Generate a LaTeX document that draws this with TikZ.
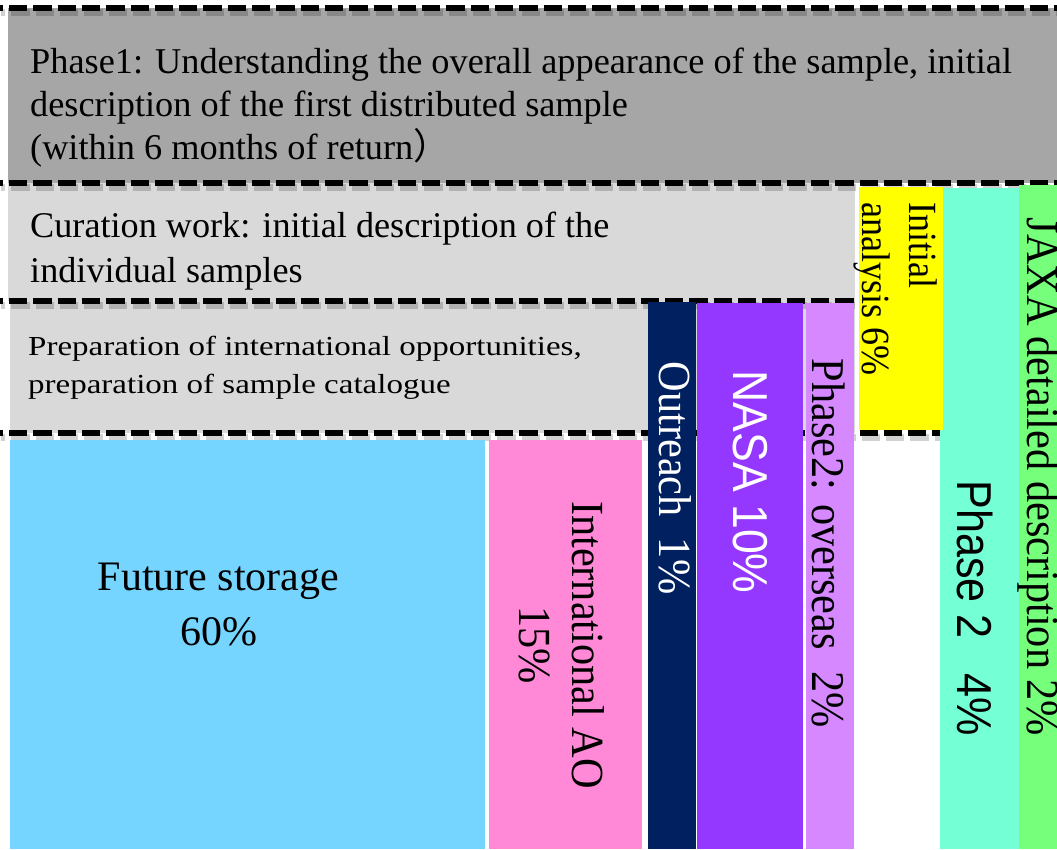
\documentclass[tikz,border=0pt]{standalone}
\usepackage{fontspec}
\setmainfont{Liberation Serif}
\newfontfamily\sansf{Liberation Sans}
\newfontfamily\cjkf{Noto Sans CJK JP}
\usepackage{graphicx}
\newcommand\fsz[2]{\fontsize{#1pt}{#2pt}\selectfont}
\definecolor{gPhaseOne}{HTML}{A6A6A6}
\definecolor{gLight}{HTML}{D9D9D9}
\definecolor{cBlue}{HTML}{75D5FF}
\definecolor{cPink}{HTML}{FF89D6}
\definecolor{cNavy}{HTML}{002060}
\definecolor{cPurple}{HTML}{9538FF}
\definecolor{cLilac}{HTML}{D689FF}
\definecolor{cYellow}{HTML}{FFFF00}
\definecolor{cTeal}{HTML}{75FFD5}
\definecolor{cGreen}{HTML}{75FF7A}
\begin{document}
\begin{tikzpicture}[x=1pt,y=-1pt,
  dashln/.style={line width=5.2pt, draw=black, dash pattern=on 18.3pt off 6pt, dash phase=15.3pt},
  dashshadow/.style={line width=7pt, draw=black, opacity=0.18, dash pattern=on 18.3pt off 6pt, dash phase=14pt},
  htext/.style={inner sep=0pt, anchor=north west, align=left},
  vtext/.style={inner sep=0pt, rotate=-90, align=center},
]
\useasboundingbox (0,0) rectangle (1057,849);
\fill[white] (0,0) rectangle (1057,849);
% background bands
\fill[gPhaseOne] (8,8) rectangle (1057,183);
\fill[gLight] (8,183) rectangle (855,301);
\fill[gLight] (10,301) rectangle (855,433);
% dashed separators with shadow
\draw[dashshadow] (1,12) -- (1057,12);
\draw[dashshadow] (1,187) -- (1057,187);
\draw[dashshadow] (1,305) -- (855,305);
\draw[dashshadow] (1,437) -- (940,437);
\draw[dashln] (0,8) -- (1057,8);
\draw[dashln] (0,183) -- (1057,183);
\draw[dashln] (0,301) -- (855,301);
\draw[dashln] (0,433) -- (940,433);
% bars
\fill[cBlue] (10,440) rectangle (485,849);
\fill[cPink] (489,440) rectangle (642,849);
\fill[cNavy] (648,302) rectangle (696,849);
\fill[cPurple] (697,303) rectangle (803,849);
\fill[cLilac] (806,303) rectangle (854,849);
\fill[cTeal] (940,188) rectangle (1019,849);
\fill[cYellow] (859,187) rectangle (943,430);
\fill[cGreen] (1019,185) rectangle (1057,849);
% texts
\node[htext, font=\fsz{36.3}{43}] (p1) at (30,48.2)
  {Phase1: Understanding the overall appearance of the sample, initial\\description of the first distributed sample\\(within 6 months of return{\cjkf ）}};
\node[htext, font=\fsz{36.2}{45}] (cur) at (30,212.3)
  {Curation work: initial description of the\\individual samples};
\node[htext, font=\fsz{27.5}{38}] (prep) at (28,336)
  {\scalebox{1.2}[1]{Preparation of international opportunities,}\\\scalebox{1.2}[1]{preparation of sample catalogue}};
\node[inner sep=0pt, align=center, font=\fsz{42}{55}] (fut) at (218.5,604.6)
  {Future storage\\60\%};
\node[vtext, font=\fsz{46}{53}] (iao) at (562,645)
  {\scalebox{0.92}[1]{International AO}\\\scalebox{0.92}[1]{15\%}};
\node[vtext, text=white, font=\fsz{46}{50}] (out) at (675,478)
  {\scalebox{0.92}[1]{Outreach\ \ 1\%}};
\node[vtext, text=white, font={\sansf\fsz{49}{50}}] (nasa) at (750.5,482)
  {\scalebox{0.91}[1]{NASA 10\%}};
\node[vtext, font=\fsz{47}{50}] (p2o) at (828,543)
  {\scalebox{0.9}[1]{Phase2: overseas\ \ 2\%}};
\node[inner sep=0pt, rotate=-90, align=left, anchor=north west, font=\fsz{40}{47}] (ini) at (937.3,202)
  {\scalebox{0.9}[1]{Initial}\\\scalebox{0.9}[1]{analysis 6\%}};
\node[vtext, font={\sansf\fsz{49}{50}}] (p24) at (975,608)
  {\scalebox{0.88}[1]{Phase 2\hspace{0.8em}4\%}};
\node[vtext, font=\fsz{46}{50}] (jaxa) at (1038.7,477)
  {\scalebox{0.92}[1]{JAXA detailed description 2\%}};
\end{tikzpicture}
\end{document}
